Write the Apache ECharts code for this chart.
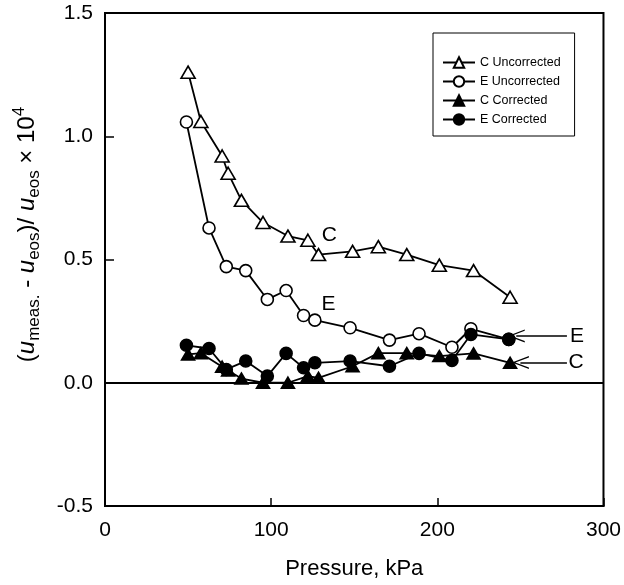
<!DOCTYPE html>
<html>
<head>
<meta charset="utf-8">
<script src="https://cdn.jsdelivr.net/npm/echarts@6/dist/echarts.min.js"></script>
<style>html,body{margin:0;padding:0;background:#fff;}#c{width:624px;height:585px;}</style>
</head>
<body>
<div id="c"></div>
<script>
// ---- data ----
var seriesNames = ['C Uncorrected', 'E Uncorrected', 'C Corrected', 'E Corrected'];
var cPressure = [50, 57.7, 70.5, 74.1, 82.1, 95.1, 110.1, 122.1, 128.5, 149, 164.5, 181.6, 201.2, 221.8, 243.8];
var cUncorrected = [1.26, 1.06, 0.92, 0.85, 0.74, 0.65, 0.595, 0.578, 0.52, 0.533, 0.552, 0.52, 0.477, 0.455, 0.347];
var cCorrected = [0.115, 0.12, 0.065, 0.05, 0.017, 0.0, 0.0, 0.027, 0.02, 0.067, 0.12, 0.12, 0.108, 0.119, 0.081];
var ePressure = [49, 62.6, 73, 84.7, 97.7, 109, 119.5, 126.3, 147.5, 171.2, 189, 208.8, 220.2, 243];
var eUncorrected = [1.058, 0.628, 0.471, 0.455, 0.338, 0.374, 0.273, 0.254, 0.223, 0.173, 0.199, 0.144, 0.219, 0.176];
var eCorrected = [0.152, 0.139, 0.054, 0.088, 0.027, 0.119, 0.061, 0.081, 0.088, 0.067, 0.119, 0.09, 0.196, 0.176];
var xTicks = [0, 100, 200, 300];
var yTicks = [-0.5, 0.0, 0.5, 1.0, 1.5];
// annotations: [text, pressure, value]
var curveLabels = [['C', 135, 0.60], ['E', 134.5, 0.318]];
var arrowLabels = [['E', 284, 0.188], ['C', 283.5, 0.082]];
var arrowLines = [[247.5, 278, 0.19], [250, 278, 0.082]];

function pairs(xs, ys) { return xs.map(function (x, i) { return [x, ys[i]]; }); }

var font = '"Liberation Sans", Arial, Helvetica, sans-serif';
var chevron = 'path://M0,0 L10,22 L7.8,22 L0,4.5 L-7.8,22 L-10,22 Z';

function lineSeries(name, data, symbol, filled, size) {
  return {
    name: name, type: 'line', data: data,
    symbol: symbol, symbolSize: size, showSymbol: true,
    lineStyle: { color: '#000', width: 1.8 },
    itemStyle: { color: filled ? '#000' : '#fff', borderColor: '#000', borderWidth: 1.6 },
    emphasis: { disabled: true }, animation: false, z: filled ? 4 : 3
  };
}

var series = [
  lineSeries(seriesNames[0], pairs(cPressure, cUncorrected), 'triangle', false, [14, 12]),
  lineSeries(seriesNames[1], pairs(ePressure, eUncorrected), 'circle', false, 12),
  lineSeries(seriesNames[2], pairs(cPressure, cCorrected), 'triangle', true, [13, 11]),
  lineSeries(seriesNames[3], pairs(ePressure, eCorrected), 'circle', true, 12)
];
series[3].markLine = {
  silent: true, animation: false, symbol: 'none', label: { show: false },
  lineStyle: { color: '#000', width: 2, type: 'solid' },
  data: [{ yAxis: 0 }]
};
series.push({
  type: 'scatter', name: 'ann', silent: true, animation: false, symbolSize: 0,
  itemStyle: { opacity: 1, color: '#000' },
  data: curveLabels.concat(arrowLabels).map(function (a) { return { name: a[0], value: [a[1], a[2]] }; }),
  label: { show: true, position: 'inside', formatter: '{b}', color: '#000', opacity: 1, fontSize: 21, fontFamily: font },
  markLine: {
    silent: true, animation: false,
    symbol: [chevron, 'none'], symbolSize: [13, 17],
    label: { show: false },
    lineStyle: { color: '#000', width: 1.5, type: 'solid', opacity: 1 },
    data: arrowLines.map(function (a) { return [{ coord: [a[0], a[2]] }, { coord: [a[1], a[2]] }]; })
  }
});

var chart = echarts.init(document.getElementById('c'), null, { renderer: 'canvas' });
chart.setOption({
  animation: false,
  backgroundColor: '#fff',
  grid: { left: 105, right: 20, top: 13, bottom: 78, show: true, borderColor: '#000', borderWidth: 2, backgroundColor: 'transparent' },
  legend: {
    data: seriesNames, orient: 'vertical', left: 433, top: 33,
    padding: [23, 14, 10, 9], itemGap: 6, itemWidth: 32, itemHeight: 13,
    borderColor: '#000', borderWidth: 1, backgroundColor: '#fff',
    textStyle: { fontSize: 12.5, fontFamily: font, color: '#000' },
    selectedMode: false
  },
  xAxis: {
    type: 'value', min: xTicks[0], max: xTicks[xTicks.length - 1], interval: 100,
    name: 'Pressure, kPa', nameLocation: 'middle', nameGap: 52,
    nameTextStyle: { fontSize: 22, fontFamily: font, color: '#000' },
    axisLine: { show: true, onZero: false, lineStyle: { color: '#000', width: 2 } },
    axisTick: { show: true, inside: true, length: 8, lineStyle: { color: '#000', width: 1.5 } },
    axisLabel: { fontSize: 21, fontFamily: font, color: '#000', margin: 14 },
    splitLine: { show: false }
  },
  yAxis: {
    type: 'value', min: yTicks[0], max: yTicks[yTicks.length - 1], interval: 0.5,
    name: '({i|u}{sub|meas.} - {i|u}{sub|eos})/ {i|u}{sub|eos} × 10{sup|4}',
    nameLocation: 'middle', nameGap: 62, nameRotate: 90,
    nameTextStyle: {
      fontSize: 24, fontFamily: font, color: '#000', lineHeight: 32, padding: [0, 0, 0, 50],
      rich: {
        i: { fontSize: 24, fontStyle: 'italic', fontFamily: font, color: '#000', lineHeight: 32 },
        sub: { fontSize: 17, fontFamily: font, color: '#000', verticalAlign: 'bottom', lineHeight: 17 },
        sup: { fontSize: 17, fontFamily: font, color: '#000', verticalAlign: 'top', lineHeight: 17 }
      }
    },
    axisLine: { show: true, onZero: false, lineStyle: { color: '#000', width: 2 } },
    axisTick: { show: true, inside: true, length: 9, lineStyle: { color: '#000', width: 1.5 } },
    axisLabel: { fontSize: 21, fontFamily: font, color: '#000', margin: 12, formatter: function (v) { return v.toFixed(1); } },
    splitLine: { show: false }
  },
  series: series
});
</script>
</body>
</html>
